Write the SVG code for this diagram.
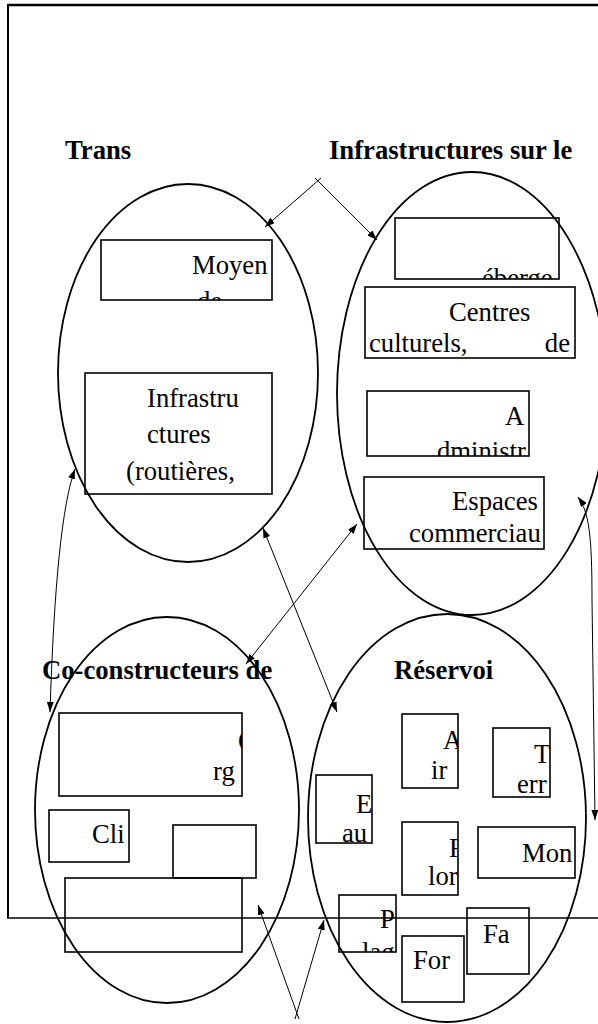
<svg xmlns="http://www.w3.org/2000/svg" width="598" height="1024" viewBox="0 0 598 1024">
<style>
.t{font-family:"Liberation Serif","Times New Roman",serif;font-size:26.67px;fill:#000}
.h{font-weight:bold}
.el{fill:none;stroke:#000;stroke-width:1.8}
.bx{fill:none;stroke:#000;stroke-width:1.6}
.ln{fill:none;stroke:#000;stroke-width:1}
.fr{fill:none;stroke:#000}
</style>
<defs>
<marker id="ah" viewBox="0 0 10 7" refX="10" refY="3.5" markerWidth="10" markerHeight="7" markerUnits="userSpaceOnUse" orient="auto-start-reverse"><path d="M0,0 L10,3.5 L0,7 z" fill="#000"/></marker>
<clipPath id="c1"><rect x="101" y="240" width="171" height="60"/></clipPath>
<clipPath id="c2"><rect x="85" y="373" width="187" height="121"/></clipPath>
<clipPath id="c3"><rect x="395" y="218" width="164" height="61"/></clipPath>
<clipPath id="c4"><rect x="365" y="287" width="210" height="71"/></clipPath>
<clipPath id="c5"><rect x="367" y="391" width="162" height="65"/></clipPath>
<clipPath id="c6"><rect x="364" y="477" width="180" height="72"/></clipPath>
<clipPath id="c7"><rect x="59" y="713" width="183" height="83"/></clipPath>
<clipPath id="c8"><rect x="49" y="810" width="80" height="52"/></clipPath>
<clipPath id="c11"><rect x="402" y="714" width="56" height="74"/></clipPath>
<clipPath id="c12"><rect x="493" y="728" width="57" height="69"/></clipPath>
<clipPath id="c13"><rect x="316" y="775" width="56" height="68"/></clipPath>
<clipPath id="c14"><rect x="402" y="822" width="56" height="73"/></clipPath>
<clipPath id="c15"><rect x="478" y="827" width="97" height="51"/></clipPath>
<clipPath id="c16"><rect x="339" y="895" width="57" height="57"/></clipPath>
<clipPath id="c17"><rect x="402" y="936" width="62" height="66"/></clipPath>
<clipPath id="c18"><rect x="467" y="908" width="62" height="66"/></clipPath>
</defs>

<g id="frame">
<line class="fr" x1="7" y1="5" x2="598" y2="5" stroke-width="2.5"/>
<line class="fr" x1="8" y1="4" x2="8" y2="918" stroke-width="2"/>
<line class="fr" x1="7" y1="918" x2="598" y2="918" stroke-width="1.3"/>
</g>

<g id="grp-transports">
<ellipse class="el" cx="188" cy="373" rx="130" ry="189"/>
<text class="t h" x="65" y="159">Trans</text>
</g>
<g id="grp-infrastructures">
<ellipse class="el" cx="472" cy="393.5" rx="135" ry="221.5"/>
<text class="t h" x="329" y="159">Infrastructures sur le</text>
</g>
<g id="grp-coconstructeurs">
<ellipse class="el" cx="167" cy="810" rx="132" ry="193"/>
<text class="t h" x="42" y="679">Co-constructeurs de</text>
</g>
<g id="grp-reservoir">
<ellipse class="el" cx="447" cy="818" rx="139" ry="204"/>
<text class="t h" x="394" y="679">Réservoi</text>
</g>

<g id="n-moyen"><rect class="bx" x="101" y="240" width="171" height="60"/>
<text class="t" clip-path="url(#c1)"><tspan x="192" y="274">Moyen</tspan><tspan x="197" y="310">de</tspan></text></g>
<g id="n-infrastru"><rect class="bx" x="85" y="373" width="187" height="121"/>
<text class="t" clip-path="url(#c2)"><tspan x="147" y="407">Infrastru</tspan><tspan x="147" y="443">ctures</tspan><tspan x="126" y="480">(routières,</tspan></text></g>
<g id="n-heberge"><rect class="bx" x="395" y="218" width="164" height="61"/>
<text class="t" clip-path="url(#c3)" x="482" y="287">éberge</text></g>
<g id="n-centres"><rect class="bx" x="365" y="287" width="210" height="71"/>
<text class="t" clip-path="url(#c4)"><tspan x="449" y="321">Centres</tspan><tspan x="369" y="352">culturels,</tspan><tspan x="570" y="352" text-anchor="end">de</tspan></text></g>
<g id="n-admin"><rect class="bx" x="367" y="391" width="162" height="65"/>
<text class="t" clip-path="url(#c5)"><tspan x="505" y="425">A</tspan><tspan x="437" y="460">dministr</tspan></text></g>
<g id="n-espaces"><rect class="bx" x="364" y="477" width="180" height="72"/>
<text class="t" clip-path="url(#c6)"><tspan x="452" y="510">Espaces</tspan><tspan x="409" y="542">commerciau</tspan></text></g>

<g id="n-org"><rect class="bx" x="59" y="713" width="183" height="83"/>
<text class="t" clip-path="url(#c7)"><tspan x="238" y="750">O</tspan><tspan x="213" y="780">rg</tspan></text></g>
<g id="n-cli"><rect class="bx" x="49" y="810" width="80" height="52"/>
<text class="t" clip-path="url(#c8)" x="92" y="843">Cli</text></g>
<g id="n-box9"><rect class="bx" x="173" y="825" width="83" height="53"/></g>
<g id="n-box10"><rect class="bx" x="65" y="878" width="177" height="74"/></g>

<g id="n-air"><rect class="bx" x="402" y="714" width="56" height="74"/>
<text class="t" clip-path="url(#c11)"><tspan x="443" y="749">A</tspan><tspan x="431" y="779">ir</tspan></text></g>
<g id="n-terr"><rect class="bx" x="493" y="728" width="57" height="69"/>
<text class="t" clip-path="url(#c12)"><tspan x="534" y="763">T</tspan><tspan x="517" y="793">err</tspan></text></g>
<g id="n-eau"><rect class="bx" x="316" y="775" width="56" height="68"/>
<text class="t" clip-path="url(#c13)"><tspan x="356" y="813">E</tspan><tspan x="342" y="842">au</tspan></text></g>
<g id="n-flor"><rect class="bx" x="402" y="822" width="56" height="73"/>
<text class="t" clip-path="url(#c14)"><tspan x="449" y="857">F</tspan><tspan x="428" y="885">lor</tspan></text></g>
<g id="n-mon"><rect class="bx" x="478" y="827" width="97" height="51"/>
<text class="t" clip-path="url(#c15)" x="522" y="862">Mon</text></g>
<g id="n-plag"><rect class="bx" x="339" y="895" width="57" height="57"/>
<text class="t" clip-path="url(#c16)"><tspan x="380" y="928">P</tspan><tspan x="362" y="961">lag</tspan></text></g>
<g id="n-for"><rect class="bx" x="402" y="936" width="62" height="66"/>
<text class="t" clip-path="url(#c17)" x="413" y="969">For</text></g>
<g id="n-fa"><rect class="bx" x="467" y="908" width="62" height="66"/>
<text class="t" clip-path="url(#c18)" x="483" y="943">Fa</text></g>

<g id="connectors">
<line class="ln" x1="321" y1="178" x2="265" y2="227" marker-end="url(#ah)"/>
<line class="ln" x1="315" y1="178" x2="377" y2="240" marker-end="url(#ah)"/>
<path class="ln" d="M75,469 Q56,520 50,712" marker-start="url(#ah)" marker-end="url(#ah)"/>
<line class="ln" x1="263" y1="528" x2="337" y2="712" marker-start="url(#ah)" marker-end="url(#ah)"/>
<line class="ln" x1="357" y1="524" x2="246" y2="664" marker-start="url(#ah)" marker-end="url(#ah)"/>
<path class="ln" d="M578,497 C589,512 592,535 592,600 L595,820" marker-start="url(#ah)" marker-end="url(#ah)"/>
<line class="ln" x1="299" y1="1019" x2="258" y2="905" marker-end="url(#ah)"/>
<line class="ln" x1="295" y1="1019" x2="324" y2="920" marker-end="url(#ah)"/>
</g>
</svg>
